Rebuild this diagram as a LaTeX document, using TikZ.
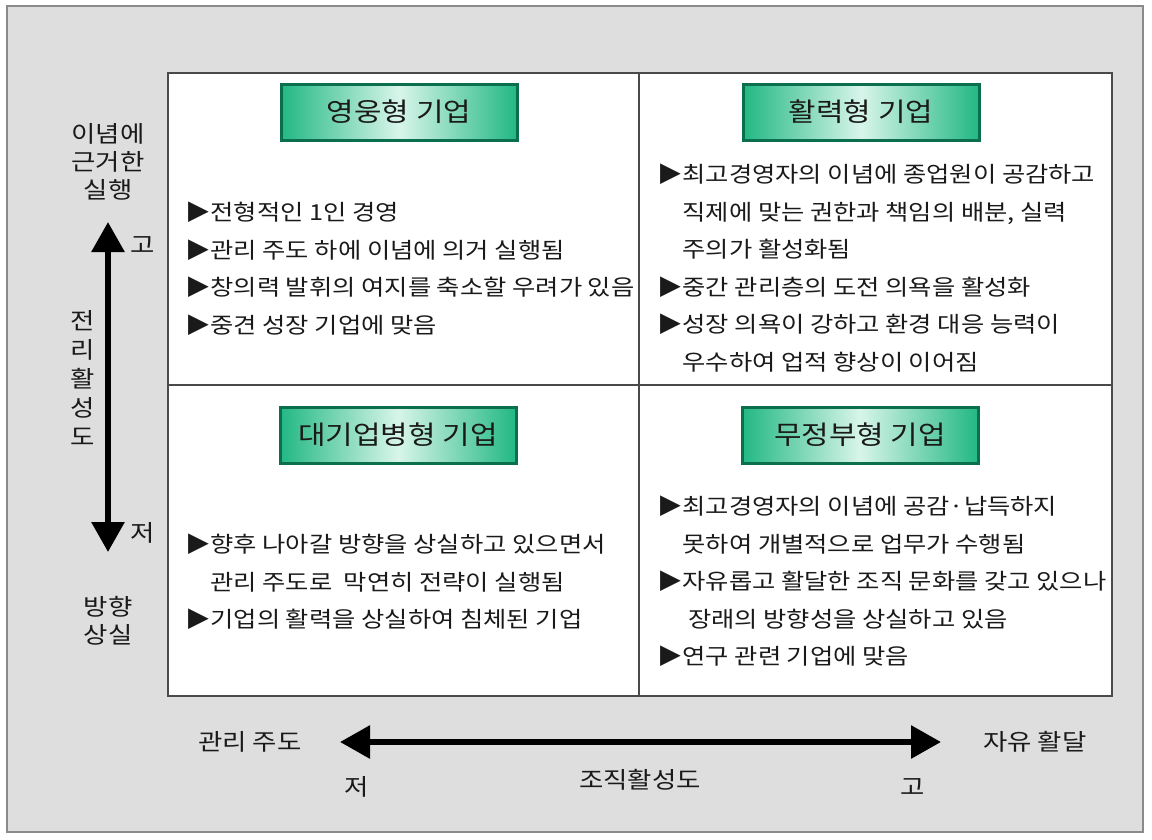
\documentclass[tikz,border=0pt]{standalone}
\usepackage{fontspec}
\newfontfamily\kr[FakeStretch=1.15]{Noto Sans CJK KR}
\usetikzlibrary{arrows.meta}
\definecolor{bggray}{HTML}{DEDEDE}
\definecolor{framegray}{HTML}{8A8A8A}
\definecolor{boxline}{HTML}{4A4A4A}
\definecolor{tealdark}{HTML}{0B6E4C}
\definecolor{tealmid}{HTML}{22B883}
\definecolor{teallight}{HTML}{D8F5EA}
\definecolor{inkgray}{HTML}{1A1A1A}
\tikzset{
  titlebox/.style={draw=tealdark, line width=3pt, left color=tealmid, right color=tealmid,
    middle color=teallight, minimum width=236pt, minimum height=56pt, inner sep=0pt,
    font=\kr\fontsize{26}{30}\selectfont, text=inkgray},
  itemtext/.style={anchor=north west, align=left, inner sep=0pt,
    font=\kr\fontsize{22}{37.5}\selectfont, text=inkgray},
  axislabel/.style={font=\kr\fontsize{23}{28}\selectfont, text=inkgray, align=center, inner sep=0pt},
  axisarrow/.style={line width=6pt, {Triangle[width=32pt,length=30pt]}-{Triangle[width=32pt,length=30pt]}},
}
\newcommand{\ind}{\hphantom{▶}}
\begin{document}
\begin{tikzpicture}[x=1pt,y=-1pt]
\useasboundingbox (0,0) rectangle (1152,839);
% 배경과 테두리
\fill[white] (0,0) rectangle (1152,839);
\draw[framegray, line width=1.5pt, fill=bggray] (7,6) rectangle (1143,832);
% 사분면 상자
\draw[boxline, line width=2pt, fill=white] (168,73) rectangle (1112,696);
\draw[boxline, line width=1.5pt] (639,73) -- (639,696);
\draw[boxline, line width=1.5pt] (168,385) -- (1112,385);

% 제목 상자
\node[titlebox] (hero) at (399,112) {영웅형 기업};
\node[titlebox] (vital) at (861,112) {활력형 기업};
\node[titlebox] (bigcorp) at (398,435) {대기업병형 기업};
\node[titlebox] (anarchy) at (860,435) {무정부형 기업};

% 각 사분면 내용
\node[itemtext] (heroitems) at (185,202) {▶전형적인 1인 경영\\
  ▶관리 주도 하에 이념에 의거 실행됨\\
  ▶창의력 발휘의 여지를 축소할 우려가 있음\\
  ▶중견 성장 기업에 맞음};
\node[itemtext] (vitalitems) at (657,164) {▶최고경영자의 이념에 종업원이 공감하고\\
  \ind 직제에 맞는 권한과 책임의 배분, 실력\\
  \ind 주의가 활성화됨\\
  ▶중간 관리층의 도전 의욕을 활성화\\
  ▶성장 의욕이 강하고 환경 대응 능력이\\
  \ind 우수하여 업적 향상이 이어짐};
\node[itemtext] (bigcorpitems) at (185,534) {▶향후 나아갈 방향을 상실하고 있으면서\\
  \ind 관리 주도로\ \ 막연히 전략이 실행됨\\
  ▶기업의 활력을 상실하여 침체된 기업};
\node[itemtext] (anarchyitems) at (657,496) {▶최고경영자의 이념에 공감·납득하지\\
  \ind 못하여 개별적으로 업무가 수행됨\\
  ▶자유롭고 활달한 조직 문화를 갖고 있으나\\
  \ind\ 장래의 방향성을 상실하고 있음\\
  ▶연구 관련 기업에 맞음};

% 세로 축
\node[axislabel] (vhighlab) at (108,162) {이념에\\근거한\\실행};
\node[axislabel] (vlowlab) at (108,621) {방향\\상실};
\coordinate (vtop) at (108,222);
\coordinate (vbot) at (108,552);
\draw[axisarrow] (vbot) -- (vtop);
\node[axislabel] (vhigh) at (143,245) {고};
\node[axislabel] (vlow) at (143,533) {저};
\node[axislabel, font=\kr\fontsize{23}{29}\selectfont] (vtitle) at (83,378) {전\\리\\활\\성\\도};

% 가로 축
\coordinate (hleft) at (340,742);
\coordinate (hright) at (941,742);
\draw[axisarrow] (hleft) -- (hright);
\node[axislabel] (hlowlab) at (250,742) {관리 주도};
\node[axislabel] (hhighlab) at (1035,742) {자유 활달};
\node[axislabel] (hlow) at (357,787) {저};
\node[axislabel] (htitle) at (640,780) {조직활성도};
\node[axislabel] (hhigh) at (913,787) {고};
\end{tikzpicture}
\end{document}
